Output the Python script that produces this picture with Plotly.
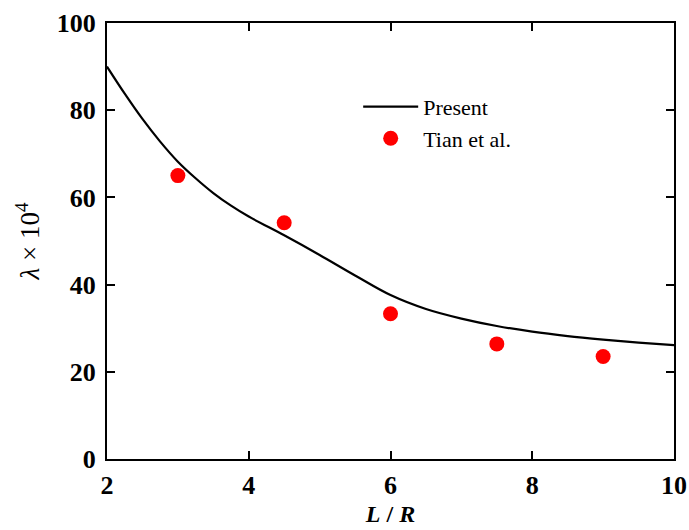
import plotly.graph_objects as go

# Present (line)
present_x = [2, 2.25, 2.5, 2.75, 3, 3.25, 3.5, 3.75, 4, 4.5, 5, 5.5, 6, 6.5, 7, 7.5, 8, 8.5, 9, 9.5, 10]
present_y = [90, 83.8, 78.0, 72.8, 68.2, 64.4, 61.0, 58.1, 55.6, 51.3, 46.8, 42.1, 37.6, 34.4, 32.2, 30.5, 29.2, 28.2, 27.4, 26.7, 26.1]

# Tian et al. (points)
tian_x = [3, 4.5, 6, 7.5, 9]
tian_y = [65.0, 54.2, 33.3, 26.4, 23.5]

x_ticks = [2, 4, 6, 8, 10]
y_ticks = [0, 20, 40, 60, 80, 100]

serif = "Liberation Serif, Times New Roman, serif"

fig = go.Figure()
fig.add_trace(go.Scatter(
    x=present_x, y=present_y, mode="lines", name="Present",
    line=dict(color="black", width=2.2, shape="spline", smoothing=1.0),
))
fig.add_trace(go.Scatter(
    x=tian_x, y=tian_y, mode="markers", name="Tian et al.",
    marker=dict(color="#ff0000", size=15, line=dict(width=0)),
))

axis_common = dict(
    showline=True, linecolor="black", linewidth=2, mirror="ticks",
    ticks="inside", ticklen=8, tickwidth=2, tickcolor="black",
    showgrid=False, zeroline=False, automargin=False,
    tickfont=dict(family=serif, size=26, color="black", weight="bold"),
)

fig.update_xaxes(
    range=[2, 10], tickvals=x_ticks,
    title=dict(text="<b><i>L</i> / <i>R</i></b>", font=dict(family=serif, size=24, color="black"), standoff=6),
    ticklabelstandoff=2,
    **axis_common,
)
fig.update_yaxes(
    range=[0, 100], tickvals=y_ticks,
    title=dict(text="<i>λ</i> × 10<sup>4</sup>", font=dict(family=serif, size=27, color="black"), standoff=9),
    ticklabelstandoff=4,
    **axis_common,
)

fig.update_layout(
    width=689, height=530,
    margin=dict(l=107, r=15, t=23, b=71),
    paper_bgcolor="white", plot_bgcolor="white",
    showlegend=True,
    legend=dict(
        x=0.443, y=0.856, xanchor="left", yanchor="top",
        bgcolor="rgba(0,0,0,0)", borderwidth=0,
        font=dict(family=serif, size=22, color="black"),
        itemwidth=55, tracegroupgap=0,
    ),
)

fig.write_html("out.html")
